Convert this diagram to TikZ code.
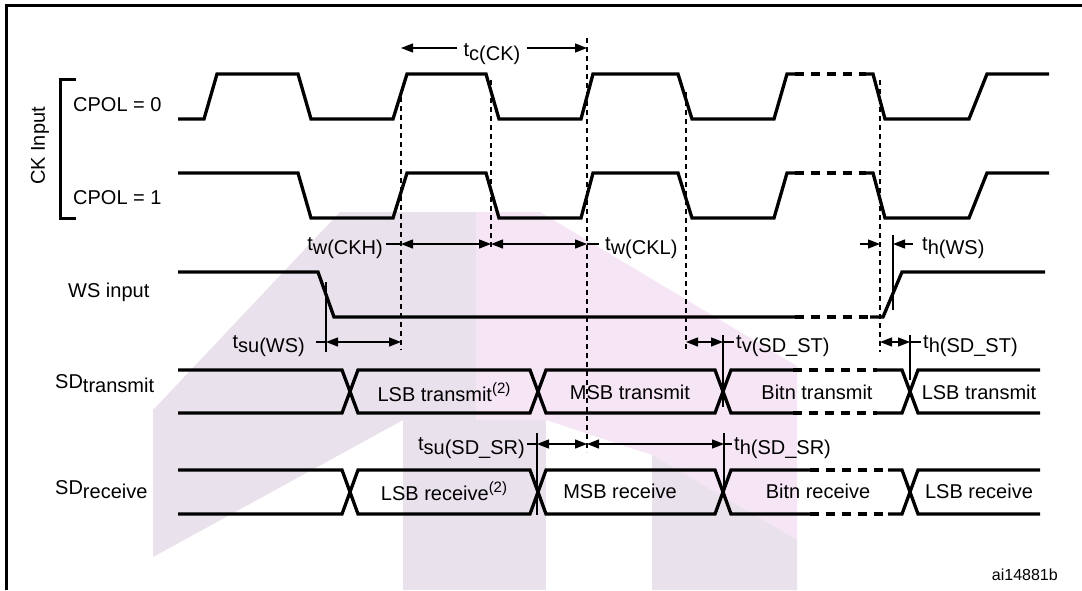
\documentclass[tikz,border=0pt]{standalone}
\usepackage{fontspec}
\setmainfont{Liberation Sans}
\usetikzlibrary{arrows.meta,positioning,calc,backgrounds}
\definecolor{wmgrey}{RGB}{233,225,235}
\definecolor{wmpink}{RGB}{245,229,245}
\newcommand{\lowsub}[2]{#1\raisebox{-4pt}{#2}}
\newcommand{\upnote}[1]{\raisebox{7.5pt}{\fontsize{15}{17}\selectfont #1}}

\begin{document}
\begin{tikzpicture}[x=1pt, y=-1pt,
    sig/.style={line width=3.3pt},
    sigdash/.style={line width=3.3pt, dash pattern=on 9pt off 7pt},
    guide/.style={line width=1.3pt, dash pattern=on 5pt off 4pt},
    tick/.style={line width=1.3pt},
    dim/.style={tick, {Triangle[length=12pt,width=9pt]}-{Triangle[length=12pt,width=9pt]}},
    dimend/.style={tick, -{Triangle[length=12pt,width=9pt]}},
    lbl/.style={font=\fontsize{20}{24}\selectfont, inner sep=0pt},
    note/.style={font=\fontsize{16}{19}\selectfont, inner sep=0pt}
]
    \useasboundingbox (0,0) rectangle (1082,590);
    % faint logo watermark behind the diagram
    \begin{scope}[on background layer]
        \fill[wmgrey] (153,410) -- (340,212) -- (476,212) -- (476,420) -- (403,420) -- (153,557) -- cycle;
        \fill[wmgrey] (403,420) -- (546,420) -- (546,590) -- (403,590) -- cycle;
        \fill[wmpink] (476,212) -- (540,212) -- (797,366) -- (797,540) -- (652,455) -- (546,420) -- (476,420) -- cycle;
        \fill[wmgrey] (652,455) -- (797,540) -- (797,590) -- (652,590) -- cycle;
    \end{scope}
    % frame (cut on the right and at the bottom)
    \draw[line width=2.8pt] (6.5,590) -- (6.5,5.5) -- (1082,5.5);

    % guide positions and rows of the timing labels
    \coordinate (g1) at (401,0);
    \coordinate (g2) at (491,0);
    \coordinate (g3) at (587,0);
    \coordinate (g4) at (686,0);
    \coordinate (g5) at (880,0);
    \coordinate (k1) at (326,0);
    \coordinate (k2) at (893,0);
    \coordinate (k3) at (723,0);
    \coordinate (k4) at (910,0);
    \coordinate (k5) at (537,0);
    \coordinate (k6) at (724,0);
    \coordinate (rc) at (0,48);
    \coordinate (rw) at (0,244);
    \coordinate (rs) at (0,342);
    \coordinate (rr) at (0,444);

    % signal names
    \node[lbl, rotate=90] (ckin) at (40,146) {CK Input};
    \draw[line width=3pt] (76,79) -- (60,79) -- (60,218) -- (76,218);
    \node[lbl, anchor=west] (cpol0) at (73,105) {CPOL = 0};
    \node[lbl, anchor=west] (cpol1) at (73,198) {CPOL = 1};
    \node[lbl, anchor=west] (wsin) at (68,292) {WS input};
    \node[lbl, anchor=west] (sdt) at (55,384) {\lowsub{SD}{transmit}};
    \node[lbl, anchor=west] (sdr) at (55,490) {\lowsub{SD}{receive}};

    % CK, CPOL = 0
    \draw[sig] (178,119) -- (204,119) -- (217,74) -- (298,74) -- (311,119) -- (393,119)
        -- (407,74) -- (486,74) -- (499,119) -- (581,119) -- (593,74) -- (678,74)
        -- (692,119) -- (774,119) -- (787,74) -- (795,74);
    \draw[sigdash] (795,74) -- (866,74);
    \draw[sig] (866,74) -- (873,74) -- (885,119) -- (969,119) -- (987,74) -- (1049,74);
    % CK, CPOL = 1
    \draw[sig] (178,173) -- (298,173) -- (311,218) -- (393,218) -- (407,173) -- (486,173)
        -- (499,218) -- (581,218) -- (593,173) -- (678,173) -- (692,218) -- (774,218)
        -- (787,173) -- (795,173);
    \draw[sigdash] (795,173) -- (866,173);
    \draw[sig] (866,173) -- (873,173) -- (885,218) -- (969,218) -- (987,173) -- (1049,173);
    % WS
    \draw[sig] (178,272) -- (318,272) -- (334,317) -- (795,317);
    \draw[sigdash] (795,317) -- (870,317);
    \draw[sig] (870,317) -- (883,317) -- (902,272) -- (1045,272);
    % SD transmit
    \draw[sig] (178,370) -- (342,370) -- (358,413) -- (530,413) -- (546,370) -- (715,370) -- (731,413) -- (793,413);
    \draw[sig] (178,413) -- (342,413) -- (358,370) -- (530,370) -- (546,413) -- (715,413) -- (731,370) -- (793,370);
    \draw[sigdash] (793,370) -- (877,370);
    \draw[sigdash] (793,413) -- (877,413);
    \draw[sig] (877,370) -- (902,370) -- (918,413) -- (1040,413);
    \draw[sig] (877,413) -- (902,413) -- (918,370) -- (1040,370);
    \node[lbl] (lsbt) at (444,392) {LSB transmit\upnote{(2)}};
    \node[lbl] (msbt) at (630,392) {MSB transmit};
    \node[lbl] (bitt) at (817,392) {Bitn transmit};
    \node[lbl] (lsbtb) at (979,392) {LSB transmit};
    % SD receive
    \draw[sig] (178,470) -- (342,470) -- (358,514) -- (530,514) -- (546,470) -- (715,470) -- (731,514) -- (810,514);
    \draw[sig] (178,514) -- (342,514) -- (358,470) -- (530,470) -- (546,514) -- (715,514) -- (731,470) -- (810,470);
    \draw[sigdash] (810,470) -- (888,470);
    \draw[sigdash] (810,514) -- (888,514);
    \draw[sig] (888,470) -- (902,470) -- (918,514) -- (1040,514);
    \draw[sig] (888,514) -- (902,514) -- (918,470) -- (1040,470);
    \node[lbl] (lsbr) at (444,491) {LSB receive\upnote{(2)}};
    \node[lbl] (msbr) at (620,491) {MSB receive};
    \node[lbl] (bitr) at (818,491) {Bitn receive};
    \node[lbl] (lsbrb) at (979,491) {LSB receive};

    % dashed guides on the clock edges
    \draw[guide] (401,97) -- (401,350);
    \draw[guide] (491,80) -- (491,247);
    \draw[guide, line width=1.9pt] (587,38) -- (587,452);
    \draw[guide] (686,92) -- (686,352);
    \draw[guide] (880,80) -- (880,352);
    % solid marks on the data edges
    \draw[tick] (326,282) -- (326,352);
    \draw[tick] (893,235) -- (893,310);
    \draw[tick] (723,335) -- (723,407);
    \draw[tick] (910,335) -- (910,380);
    \draw[tick] (537,433) -- (537,515);
    \draw[tick] (724,433) -- (724,490);

    % clock period
    \node[lbl] (tc) at (492,54) {\lowsub{t}{c(CK)}};
    \draw[dimend] ([xshift=-6pt]tc.west |- rc) -- (g1 |- rc);
    \draw[dimend] ([xshift=6pt]tc.east |- rc) -- (g3 |- rc);
    % clock high and low widths
    \node[lbl, anchor=east] (twh) at (383,248) {\lowsub{t}{w(CKH)}};
    \draw[tick] ([xshift=3pt]twh.east |- rw) -- (g1 |- rw);
    \draw[dim] (g1 |- rw) -- (g2 |- rw);
    \draw[dim] (g2 |- rw) -- (g3 |- rw);
    \node[lbl, anchor=west] (twl) at (605,248) {\lowsub{t}{w(CKL)}};
    \draw[tick] (g3 |- rw) -- ([xshift=-6pt]twl.west |- rw);
    % WS hold
    \node[lbl, anchor=west] (thws) at (922,248) {\lowsub{t}{h(WS)}};
    \draw[dimend] ([xshift=-20pt]g5 |- rw) -- (g5 |- rw);
    \draw[dimend] ([xshift=-9pt]thws.west |- rw) -- (k2 |- rw);
    % WS setup
    \node[lbl, anchor=east] (tsuws) at (305,346) {\lowsub{t}{su(WS)}};
    \draw[tick] ([xshift=11pt]tsuws.east |- rs) -- (k1 |- rs);
    \draw[dim] (k1 |- rs) -- (g1 |- rs);
    % transmit valid and hold
    \draw[dim] (g4 |- rs) -- (k3 |- rs);
    \node[lbl, anchor=west] (tvst) at (736,346) {\lowsub{t}{v(SD\_ST)}};
    \draw[tick] (k3 |- rs) -- ([xshift=-2pt]tvst.west |- rs);
    \draw[dim] (g5 |- rs) -- (k4 |- rs);
    \node[lbl, anchor=west] (thst) at (923,346) {\lowsub{t}{h(SD\_ST)}};
    \draw[tick] (k4 |- rs) -- ([xshift=-2pt]thst.west |- rs);
    % receive setup and hold
    \node[lbl, anchor=east] (tsusr) at (525,448) {\lowsub{t}{su(SD\_SR)}};
    \draw[tick] ([xshift=2pt]tsusr.east |- rr) -- (k5 |- rr);
    \draw[dim] (k5 |- rr) -- (g3 |- rr);
    \draw[dim] (g3 |- rr) -- (k6 |- rr);
    \node[lbl, anchor=west] (thsr) at (734,448) {\lowsub{t}{h(SD\_SR)}};
    \draw[tick] (k6 |- rr) -- ([xshift=-2pt]thsr.west |- rr);

    \node[note, anchor=east] (figid) at (1058,575) {ai14881b};
\end{tikzpicture}
\end{document}
